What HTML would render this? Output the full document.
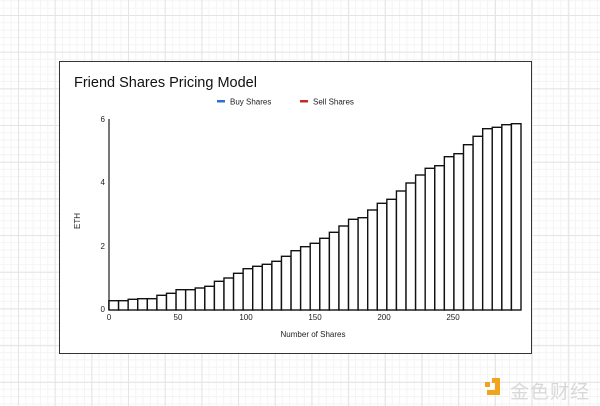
<!DOCTYPE html>
<html><head><meta charset="utf-8"><style>
html,body{margin:0;padding:0}
body{width:600px;height:406px;overflow:hidden;position:relative;font-family:"Liberation Sans",Arial,sans-serif;
background-color:#fff;
background-image:
linear-gradient(to right,#e4e4e4 1px,transparent 1px),
linear-gradient(to bottom,#e4e4e4 1px,transparent 1px),
linear-gradient(to right,#f4f4f4 1px,transparent 1px),
linear-gradient(to bottom,#f4f4f4 1px,transparent 1px);
background-size:36.7px 36.7px,36.7px 36.7px,7.34px 7.34px,7.34px 7.34px;
background-position:18px 15px,18px 15px,18px 15px,18px 15px;}
.card{position:absolute;left:59px;top:61px;width:473px;height:293px;background:#fff;border:1.5px solid #333;box-sizing:border-box;}
.logo{position:absolute;left:510px;top:377px;font-family:"Liberation Sans","Noto Sans CJK SC",sans-serif;font-size:19px;color:#d8d8d8;letter-spacing:1px}
</style></head><body>
<div class="card"></div>
<svg width="600" height="406" style="position:absolute;left:0;top:0" font-family="Liberation Sans, Arial, sans-serif">
<text x="74" y="87" font-size="14.5" fill="#111">Friend Shares Pricing Model</text>
<rect x="217" y="100" width="8" height="2.5" fill="#2f6fd0"/>
<text x="230" y="104.5" font-size="8" fill="#222">Buy Shares</text>
<rect x="300" y="100" width="8" height="2.5" fill="#c82828"/>
<text x="313" y="104.5" font-size="8" fill="#222">Sell Shares</text>
<line x1="109" y1="119" x2="109" y2="310" stroke="#777" stroke-width="2"/>
<g font-size="8" fill="#222" text-anchor="end">
<text x="105" y="122">6</text><text x="105" y="185">4</text><text x="105" y="249">2</text><text x="105" y="312">0</text>
</g>
<g font-size="8" fill="#222" text-anchor="middle">
<text x="109" y="320">0</text><text x="178" y="320">50</text><text x="246" y="320">100</text><text x="315" y="320">150</text><text x="384" y="320">200</text><text x="453" y="320">250</text>
<text x="313" y="337">Number of Shares</text>
</g>
<text transform="translate(80,221) rotate(-90)" font-size="8" fill="#222" text-anchor="middle">ETH</text>
<g id="bars" fill="#fff" stroke="#111" stroke-width="1.4"></g>
<rect x="485" y="382" width="5" height="5" fill="#f0a41c"/>
<path d="M492 378h8v17h-13v-5h8v-7h-3z" fill="#f0a41c"/>
</svg>
<div class="logo">金色财经</div>
<script>
var tops=[300.7,300.7,299.3,298.7,298.7,295.3,293.3,289.7,289.7,288,286.3,281.3,278,273.3,268.7,266.3,264.3,261.3,256.3,250.7,
246.7,243.3,238.3,232.3,226,219.3,217.7,210,203.3,199.3,191,183,175,168.3,165.7,156.7,153.7,144.7,136.3,128.7,127.3,124.7,123.7];
var g=document.getElementById('bars'),w=(521-109)/tops.length,s='';
for(var i=0;i<tops.length;i++){var x=109+i*w;s+='<rect x="'+x.toFixed(2)+'" y="'+tops[i]+'" width="'+w.toFixed(2)+'" height="'+(310-tops[i]).toFixed(1)+'"/>';}
g.innerHTML=s;
</script>
</body></html>
